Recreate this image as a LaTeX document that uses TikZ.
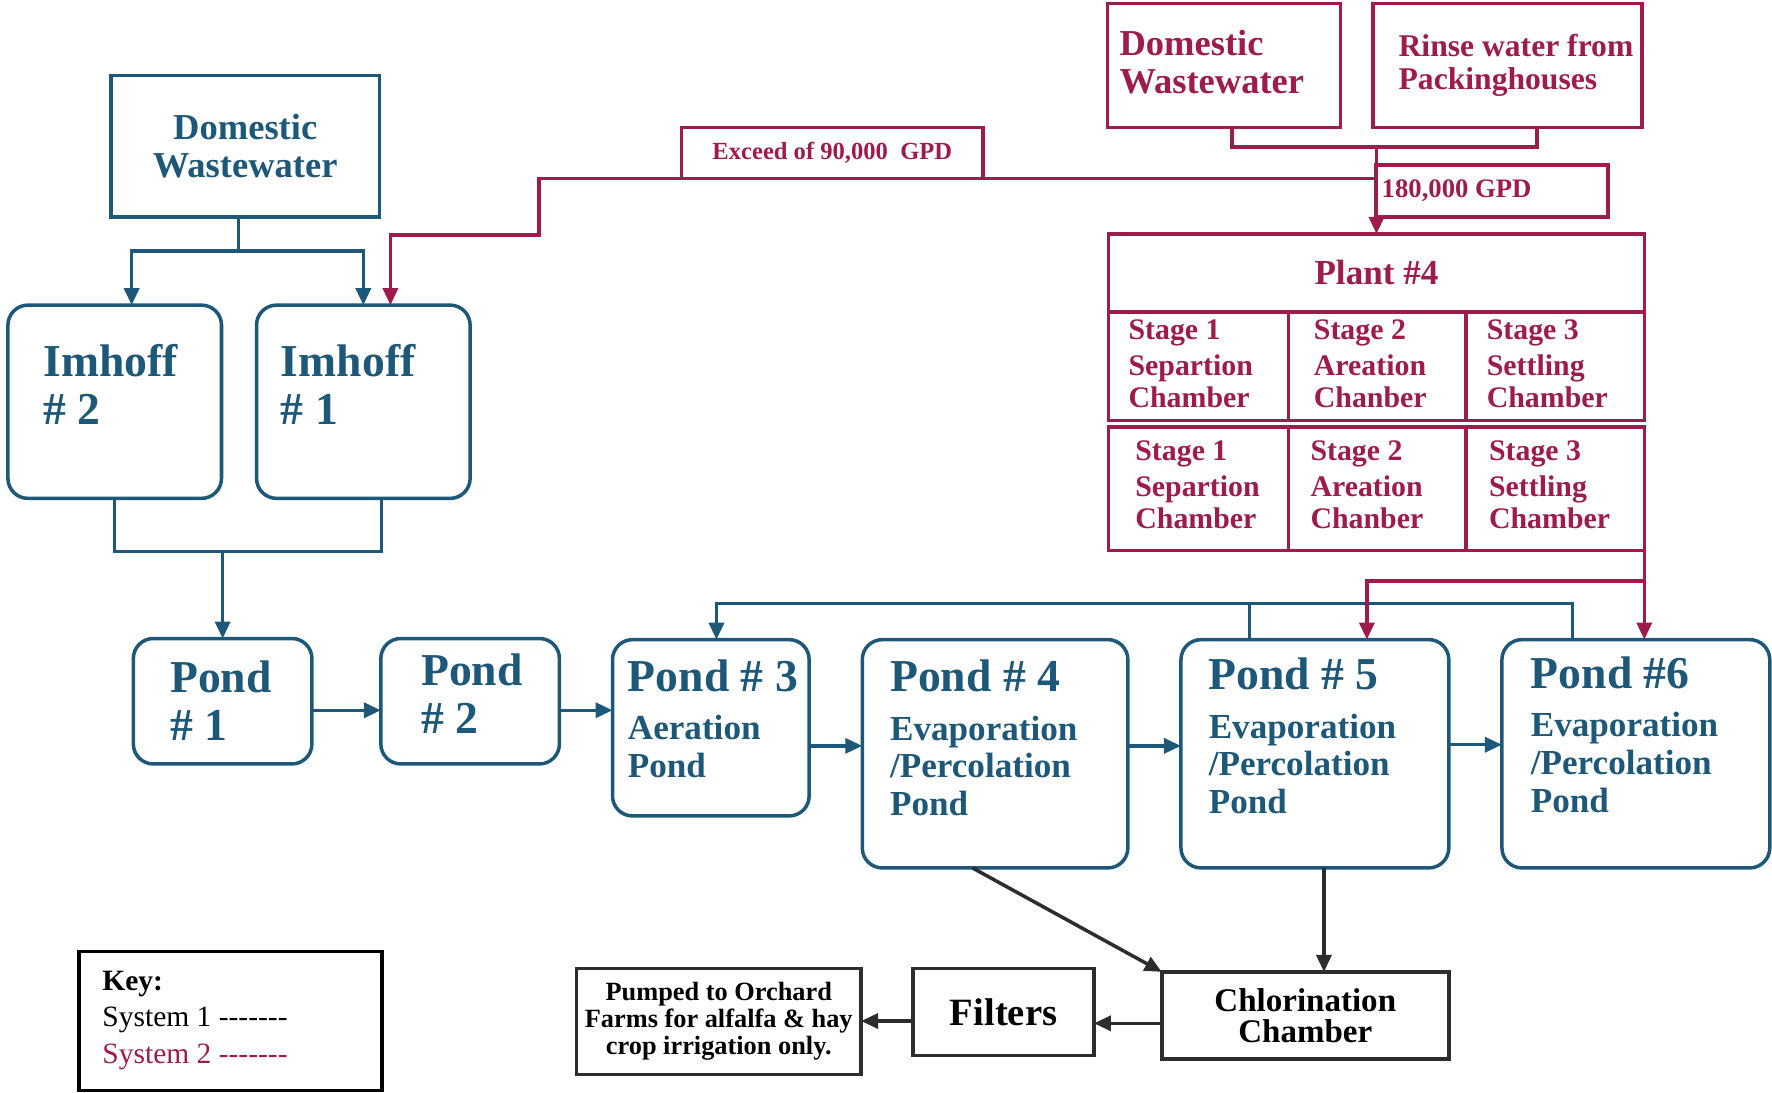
\documentclass[tikz,border=0pt]{standalone}
\usepackage{fontspec}
\setmainfont{Liberation Serif}
\usetikzlibrary{arrows.meta}

\definecolor{sysone}{RGB}{30,88,120}
\definecolor{systwo}{RGB}{158,28,74}
\definecolor{outline}{RGB}{45,45,45}

\newcommand{\tankfont}{\fontsize{13}{13.8}\selectfont\bfseries}
\newcommand{\pondfont}{\fontsize{10}{10.7}\selectfont\bfseries}
\newcommand{\pondhead}[1]{{\fontsize{13}{13.8}\selectfont #1}\\[3.1pt]}
\newcommand{\srcfont}{\fontsize{10.4}{10.8}\selectfont\bfseries}
\newcommand{\rinsefont}{\fontsize{9}{9.3}\selectfont\bfseries}
\newcommand{\stagefont}{\fontsize{8.5}{9}\selectfont\bfseries}
\newcommand{\gpdfont}{\fontsize{7}{8}\selectfont\bfseries}
\newcommand{\plantfont}{\fontsize{10}{11}\selectfont\bfseries}
\newcommand{\chlorfont}{\fontsize{9.4}{8.8}\selectfont\bfseries}
\newcommand{\pumpfont}{\fontsize{7.5}{7.7}\selectfont\bfseries}
\newcommand{\keyfont}{\fontsize{8.4}{10.3}\selectfont}
\newcommand{\keydash}{\mbox{-}\mbox{-}\mbox{-}\mbox{-}\mbox{-}\mbox{-}\mbox{-}}

\begin{document}
\begin{tikzpicture}[x=0.0113cm, y=-0.0113cm,
  box/.style 2 args={draw, line width=1pt, minimum width=#1*0.0113cm, minimum height=#2*0.0113cm, inner sep=0pt, outer sep=0pt},
  tank/.style={rounded corners=0.2cm},
  txt/.style={inner sep=0pt, anchor=west, align=left},
  flowone/.style={draw=sysone, line width=1pt},
  flowtwo/.style={draw=systwo, line width=1pt},
  arrowone/.style={flowone, -{Triangle[length=1.7mm,width=1.5mm]}},
  arrowtwo/.style={flowtwo, -{Triangle[length=1.7mm,width=1.5mm]}},
  arrowblk/.style={draw=outline, line width=1pt, -{Triangle[length=1.7mm,width=1.5mm]}}]
\useasboundingbox (0,0) rectangle (1568,967);

% system 1
\node[box={238}{125}, draw=sysone, text=sysone, font=\srcfont, align=center] (dwone) at (217,129.5) {Domestic\\Wastewater};
\node[box={189}{171}, tank, draw=sysone] (imhofftwo) at (101.5,355.5) {};
\node[box={189}{171}, tank, draw=sysone] (imhoffone) at (321.5,355.5) {};
\node[txt, text=sysone, font=\tankfont] (imhofftwotxt) at (38,340) {Imhoff\\\# 2};
\node[txt, text=sysone, font=\tankfont] (imhoffonetxt) at (248,340) {Imhoff\\\# 1};

\node[box={158}{111}, tank, draw=sysone] (pondone) at (197,620.5) {};
\node[box={158}{111}, tank, draw=sysone] (pondtwo) at (416,620.5) {};
\node[box={174}{156}, tank, draw=sysone] (pondthree) at (629,644) {};
\node[box={235}{202}, tank, draw=sysone] (pondfour) at (880.5,667) {};
\node[box={237}{202}, tank, draw=sysone] (pondfive) at (1163.5,667) {};
\node[box={237}{202}, tank, draw=sysone] (pondsix) at (1447.5,667) {};
\node[txt, text=sysone, font=\tankfont] (pondonetxt) at (150,620) {Pond\\\# 1};
\node[txt, text=sysone, font=\tankfont] (pondtwotxt) at (372,614) {Pond\\\# 2};
\node[txt, text=sysone, font=\pondfont] (pondthreetxt) at (555,636) {\pondhead{Pond \# 3}Aeration\\Pond};
\node[txt, text=sysone, font=\pondfont] (pondfourtxt) at (787,653) {\pondhead{Pond \# 4}Evaporation\\/Percolation\\Pond};
\node[txt, text=sysone, font=\pondfont] (pondfivetxt) at (1069,651) {\pondhead{Pond \# 5}Evaporation\\/Percolation\\Pond};
\node[txt, text=sysone, font=\pondfont] (pondsixtxt) at (1354,650) {\pondhead{Pond \#6}Evaporation\\/Percolation\\Pond};

% system 2
\node[box={206}{110}, draw=systwo] (dwtwo) at (1083,58) {};
\node[box={238}{110}, draw=systwo] (rinse) at (1334,58) {};
\node[txt, text=systwo, font=\srcfont] (dwtwotxt) at (990,55) {Domestic\\Wastewater};
\node[txt, text=systwo, font=\rinsefont] (rinsetxt) at (1237,58) {Rinse water from\\Packinghouses};
\node[box={206}{46}, draw=systwo] (gpd) at (1320,169) {};
\node[txt, text=systwo, font=\fontsize{7.6}{8}\selectfont\bfseries] (gpdtxt) at (1222,169) {180,000 GPD};
\node[box={267}{45}, draw=systwo, text=systwo, font=\gpdfont] (exceed) at (736.5,135.5) {Exceed of 90,000\enspace GPD};

\node[box={474}{69}, draw=systwo, text=systwo, font=\plantfont] (plant) at (1218,241.5) {Plant \#4};
\node[box={159}{96}, draw=systwo] (sepone) at (1060.5,324) {};
\node[box={157}{96}, draw=systwo] (aerone) at (1218.5,324) {};
\node[box={158}{96}, draw=systwo] (setone) at (1376,324) {};
\node[box={159}{109}, draw=systwo] (septwo) at (1060.5,432.5) {};
\node[box={157}{109}, draw=systwo] (aertwo) at (1218.5,432.5) {};
\node[box={158}{109}, draw=systwo] (settwo) at (1376,432.5) {};
\node[txt, text=systwo, font=\stagefont] (seponetxt) at (998,322) {Stage 1\\[1.3pt]Separtion\\Chamber};
\node[txt, text=systwo, font=\stagefont] (aeronetxt) at (1162,322) {Stage 2\\[1.3pt]Areation\\Chanber};
\node[txt, text=systwo, font=\stagefont] (setonetxt) at (1315,322) {Stage 3\\[1.3pt]Settling\\Chamber};
\node[txt, text=systwo, font=\stagefont] (septwotxt) at (1004,429) {Stage 1\\[1.3pt]Separtion\\Chamber};
\node[txt, text=systwo, font=\stagefont] (aertwotxt) at (1159,429) {Stage 2\\[1.3pt]Areation\\Chanber};
\node[txt, text=systwo, font=\stagefont] (settwotxt) at (1317,429) {Stage 3\\[1.3pt]Settling\\Chamber};

% outflow
\node[box={254}{77}, draw=outline, font=\chlorfont, align=center] (chlor) at (1155,898.5) {Chlorination\\Chamber};
\node[box={160}{77}, draw=outline, font=\fontsize{11}{12}\selectfont\bfseries] (filters) at (888,895.5) {Filters};
\node[box={252}{94}, draw=outline, font=\pumpfont, align=center] (pumped) at (636,904) {Pumped to Orchard\\Farms for alfalfa \& hay\\crop irrigation only.};
\node[box={268}{123}, draw=black] (key) at (204,903.5) {};
\node[txt, font=\keyfont] (keytxt) at (90,903) {\textbf{Key:}\\System 1 \keydash\\\textcolor{systwo}{System 2 \keydash}};

% system 1 lines
\draw[flowone] ([shift={(-6,0)}]dwone.south) -- ++(0,30) coordinate (dwsplit);
\draw[arrowone] (dwsplit) -| ([shift={(15,0)}]imhofftwo.north);
\draw[arrowone] (dwsplit) -| (imhoffone.north);
\draw[flowone] (imhofftwo.south) -- ++(0,47) coordinate (imjoin) -| ([shift={(16,0)}]imhoffone.south);
\draw[arrowone] (imjoin -| pondone.north) -- (pondone.north);
\draw[arrowone] ([shift={(0,8)}]pondone.east) coordinate (p12) -- (p12 -| pondtwo.west);
\draw[arrowone] ([shift={(0,8)}]pondtwo.east) coordinate (p23) -- (p23 -| pondthree.west);
\draw[arrowone] ([shift={(0,16)}]pondthree.east) coordinate (p34) -- (p34 -| pondfour.west);
\draw[arrowone] ([shift={(0,-7)}]pondfour.east) coordinate (p45) -- (p45 -| pondfive.west);
\draw[arrowone] ([shift={(0,-8)}]pondfive.east) coordinate (p56) -- (p56 -| pondsix.west);
\draw[arrowone] ([shift={(-56,0)}]pondsix.north) -- ++(0,-32) -| ([shift={(5,0)}]pondthree.north);
\draw[flowone] ([shift={(-58,0)}]pondfive.north) -- ++(0,-32);

% system 2 lines
\draw[flowtwo] ([shift={(7,0)}]dwtwo.south) -- ++(0,17) coordinate (rjoin) -| ([shift={(26,0)}]rinse.south);
\draw[arrowtwo] (rjoin -| plant.north) -- (plant.north);
\draw[arrowtwo] (exceed.south -| plant.north) -- ++(-741,0) -- ++(0,50) -| ([shift={(24,0)}]imhoffone.north);
\draw[flowtwo] (settwo.south east) -- ++(0,27) coordinate (rsplit);
\draw[arrowtwo] (rsplit) -- (rsplit |- pondsix.north);
\draw[arrowtwo] (rsplit) -| ([shift={(46,0)}]pondfive.north);

% outflow lines
\draw[arrowblk] ([shift={(-20,0)}]pondfour.south) -- (chlor.north west);
\draw[arrowblk] ([shift={(8,0)}]pondfive.south) coordinate (p5c) -- (p5c |- chlor.north);
\draw[arrowblk] ([shift={(0,7)}]chlor.west) coordinate (cf) -- (cf -| filters.east);
\draw[arrowblk] ([shift={(0,8)}]filters.west) coordinate (fp) -- (fp -| pumped.east);
\end{tikzpicture}
\end{document}
